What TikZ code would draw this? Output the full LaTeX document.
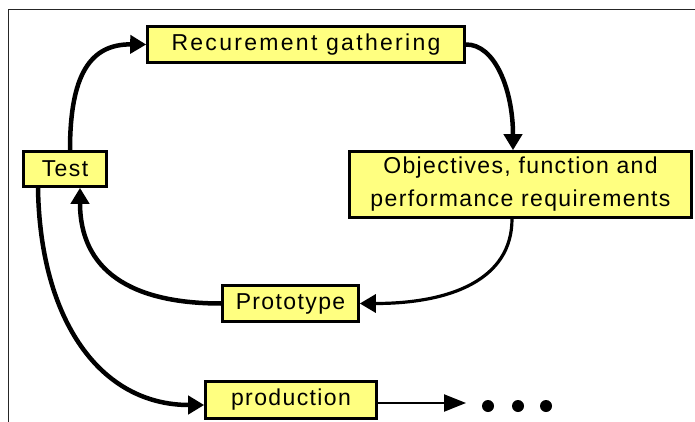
\documentclass[tikz,border=0pt]{standalone}
\usepackage{fontspec}
\newfontfamily\boxfont{Liberation Sans}[LetterSpace=6]
\newfontfamily\wideboxfont{Liberation Sans}[LetterSpace=10]
\usetikzlibrary{arrows.meta}
\definecolor{boxyellow}{RGB}{255,255,128}
\begin{document}
\begin{tikzpicture}[x=1pt,y=-1pt,
  box/.style={draw=black, line width=2.6pt, fill=boxyellow, inner sep=0pt,
    font=\boxfont\fontsize{23}{33}\selectfont, align=center},
  conn/.style={line width=4.5pt, -{Triangle[length=16pt,width=18pt]}},
  connthin/.style={line width=3.2pt, -{Triangle[length=16pt,width=18pt]}},
  prodarrow/.style={line width=2.2pt, -{Triangle[length=22pt,width=17pt]}},
  dot/.style={circle, fill=black, minimum size=12pt, inner sep=0pt},
  frame/.style={line width=1pt, black!85}]
\useasboundingbox (0,0) rectangle (695,422);
\draw[frame] (8,422) -- (8,10) -- (695,10);

\node[box, minimum width=317pt, minimum height=36pt,
  font=\wideboxfont\fontsize{23}{33}\selectfont] (req) at (306,44.5) {Recurement gathering};
\node[box, minimum width=342pt, minimum height=66pt] (obj) at (520.5,184.5) {Objectives, function and\\performance requirements};
\node[box, minimum width=83pt, minimum height=35pt] (test) at (65,169) {Test};
\node[box, minimum width=136pt, minimum height=36pt] (proto) at (290.5,303.5) {Prototype};
\node[box, minimum width=171pt, minimum height=37pt] (prod) at (291,400) {production};

\coordinate (pe) at (466,403);
\node[dot] (d1) at (488,406) {};
\node[dot] (d2) at (518,406) {};
\node[dot] (d3) at (546,406) {};

\draw[conn] ([xshift=5pt]test.north) .. controls (70,75) and (90,44) .. (req.west);
\draw[conn] (req.east) .. controls (495,44) and (513,90) .. ([xshift=-7.5pt]obj.north);
\draw[connthin] ([xshift=-8.5pt]obj.south) .. controls (512,280) and (450,303.5) .. (proto.east);
\draw[conn] (proto.west) .. controls (130,303.5) and (80,270) .. ([xshift=15pt]test.south);
\draw[conn] ([xshift=-27pt]test.south) .. controls (40,320) and (100,405) .. ([yshift=-5pt]prod.west);
\draw[prodarrow] ([yshift=-3pt]prod.east) -- (pe);
\end{tikzpicture}
\end{document}
